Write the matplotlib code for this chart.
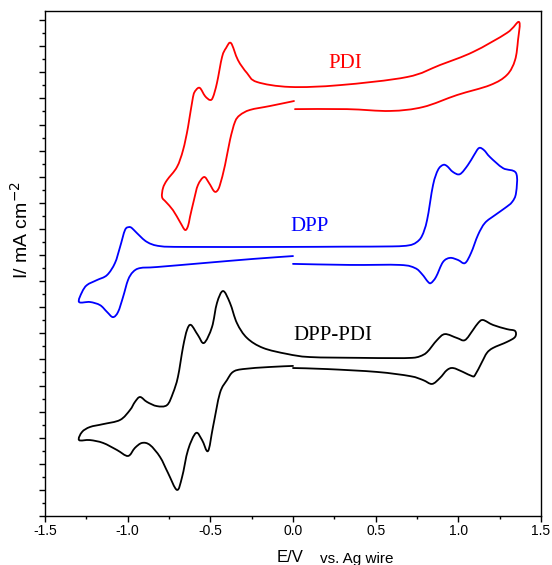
import matplotlib
matplotlib.use("Agg")
import matplotlib.pyplot as plt
import numpy as np
from matplotlib.path import Path
from matplotlib.patches import PathPatch
from matplotlib.ticker import MultipleLocator, FormatStrFormatter

# cyclic voltammograms, current in stacked (offset) units
pdi_E = [0.012, 0.327, 0.587, 0.786, 0.992, 1.192, 1.294, 1.343, 1.361, 1.367,
         1.294, 1.089, 0.889, 0.690, 0.284, -0.018, -0.218, -0.278, -0.333, -0.375,
         -0.405, -0.429, -0.460, -0.484, -0.502, -0.532, -0.563, -0.587, -0.605, -0.635,
         -0.665, -0.702, -0.762, -0.786, -0.792, -0.768, -0.726, -0.683, -0.653, -0.635,
         -0.623, -0.599, -0.575, -0.538, -0.508, -0.478, -0.460, -0.442, -0.411, -0.381,
         -0.351, -0.321, -0.260, -0.139, 0.006]
pdi_I = [15.59, 15.59, 15.52, 15.67, 16.13, 16.51, 16.90, 17.47, 18.24, 18.93,
         18.51, 17.78, 17.28, 16.82, 16.51, 16.44, 16.63, 16.97, 17.47, 18.12,
         17.93, 17.59, 16.59, 16.05, 15.94, 16.09, 16.40, 16.32, 16.05, 14.90,
         14.02, 13.37, 12.87, 12.57, 12.22, 12.03, 11.72, 11.26, 10.96, 11.11,
         11.46, 12.11, 12.68, 12.99, 12.76, 12.45, 12.45, 12.68, 13.45, 14.41,
         15.10, 15.36, 15.56, 15.71, 15.90]

dpp_E = [0.0, 0.345, 0.647, 0.738, 0.780, 0.817, 0.835, 0.865, 0.907, 0.950,
         0.998, 1.040, 1.077, 1.119, 1.161, 1.222, 1.282, 1.325, 1.349, 1.349,
         1.270, 1.192, 1.155, 1.125, 1.095, 1.058, 1.010, 0.968, 0.931, 0.907,
         0.877, 0.847, 0.811, 0.780, 0.745, 0.700, 0.600, 0.300, -0.060, -0.641, -0.804, -0.883,
         -0.944, -0.974, -0.992, -1.016, -1.046, -1.077, -1.125, -1.186, -1.246, -1.276,
         -1.294, -1.228, -1.167, -1.125, -1.089, -1.058, -1.028, -0.998, -0.968, -0.925,
         -0.823, -0.544, -0.242, 0.0]
dpp_I = [9.66, 9.62, 9.62, 9.50, 9.27, 8.97, 8.93, 9.16, 9.73, 9.89,
         9.81, 9.69, 10.08, 10.77, 11.23, 11.53, 11.80, 12.03, 12.38, 13.14,
         13.33, 13.75, 14.02, 14.10, 13.83, 13.45, 13.10, 13.18, 13.41, 13.45,
         13.26, 12.68, 11.34, 10.73, 10.48, 10.37, 10.33, 10.32, 10.31, 10.31, 10.34, 10.50,
         10.84, 11.03, 11.07, 10.96, 10.31, 9.69, 9.23, 9.04, 8.85, 8.58,
         8.20, 8.20, 8.08, 7.82, 7.62, 7.82, 8.39, 9.04, 9.35, 9.50,
         9.54, 9.69, 9.85, 9.96]

dyad_E = [0.0, 0.206, 0.508, 0.708, 0.786, 0.841, 0.889, 0.931, 0.968, 1.028,
          1.083, 1.101, 1.143, 1.173, 1.210, 1.294, 1.343, 1.343, 1.294, 1.210,
          1.149, 1.119, 1.089, 1.040, 0.992, 0.919, 0.871, 0.811, 0.768, 0.720,
          0.600, 0.400, 0.103,
          -0.036, -0.181, -0.278, -0.339, -0.381, -0.423, -0.460, -0.490, -0.538, -0.575,
          -0.617, -0.641, -0.665, -0.696, -0.726, -0.762, -0.823, -0.883, -0.925, -0.956,
          -0.986, -1.046, -1.149, -1.228, -1.276, -1.294, -1.228, -1.149, -1.065, -0.998,
          -0.956, -0.913, -0.865, -0.804, -0.756, -0.702, -0.671, -0.635, -0.587, -0.550,
          -0.514, -0.484, -0.442, -0.399, -0.363, -0.302, -0.139, 0.0]
dyad_I = [5.67, 5.63, 5.52, 5.36, 5.21, 5.06, 5.29, 5.59, 5.67, 5.52,
          5.36, 5.40, 5.90, 6.25, 6.44, 6.67, 6.86, 7.09, 7.16, 7.32,
          7.51, 7.39, 7.13, 6.74, 6.82, 6.97, 6.74, 6.28, 6.12, 6.06,
          6.05, 6.06, 6.09,
          6.21, 6.44, 6.82, 7.39, 8.16, 8.62, 8.16, 7.24, 6.63, 6.93,
          7.32, 7.13, 6.48, 5.33, 4.71, 4.25, 4.21, 4.37, 4.56, 4.37,
          4.06, 3.68, 3.52, 3.41, 3.22, 2.91, 2.91, 2.80, 2.53, 2.30,
          2.61, 2.80, 2.72, 2.26, 1.65, 1.00, 1.49, 2.53, 3.18, 2.91,
          2.49, 3.41, 4.71, 5.21, 5.52, 5.63, 5.71, 5.75]

names = ["PDI", "DPP", "DPP-PDI"]
colors = ["#ff0000", "#0000ff", "#000000"]


def smooth_path(x, y):
    # Catmull-Rom through the read points, drawn as cubic Bezier pieces
    p = np.column_stack([x, y])
    n = len(p)
    verts = [p[0]]
    codes = [Path.MOVETO]
    for i in range(n - 1):
        p0 = p[max(i - 1, 0)]
        p1 = p[i]
        p2 = p[i + 1]
        p3 = p[min(i + 2, n - 1)]
        verts += [p1 + (p2 - p0) / 6, p2 - (p3 - p1) / 6, p2]
        codes += [Path.CURVE4] * 3
    return Path(verts, codes)


fig = plt.figure(figsize=(5.52, 5.65), dpi=100)
ax = fig.add_axes([45 / 552, 49 / 565, 496 / 552, 505 / 565])

for E, I, c in zip([pdi_E, dpp_E, dyad_E], [pdi_I, dpp_I, dyad_I], colors):
    ax.add_patch(PathPatch(smooth_path(E, I), fill=False, edgecolor=c, lw=1.3,
                           joinstyle="round", capstyle="round"))

# curve labels
serif = "Liberation Serif"
ax.text(0.315, 17.32, names[0], color=colors[0], fontsize=15, family=serif, ha="center", va="center")
ax.text(0.103, 11.11, names[1], color=colors[1], fontsize=15, family=serif, ha="center", va="center")
ax.text(0.242, 6.90, names[2], color=colors[2], fontsize=15, family=serif, ha="center", va="center")

ax.set_xlim(-1.5, 1.5)
ax.set_ylim(0, 19.35)
ax.xaxis.set_major_locator(MultipleLocator(0.5))
ax.xaxis.set_minor_locator(MultipleLocator(0.25))
ax.xaxis.set_major_formatter(FormatStrFormatter("%.1f"))
ax.yaxis.set_major_locator(MultipleLocator(1))
ax.yaxis.set_minor_locator(MultipleLocator(0.5))
ax.tick_params(axis="y", labelleft=False)
ax.tick_params(which="both", direction="out", width=1, top=False, right=False)
ax.tick_params(which="major", length=4.5)
ax.tick_params(which="minor", length=2.5)
ax.tick_params(axis="x", pad=1.5, labelsize=10)
for lab in ax.get_xticklabels():
    lab.set_family("Liberation Sans")
for s in ax.spines.values():
    s.set_linewidth(1.0)

fig.text(290 / 552, 1 - 558 / 565, "E/V", fontsize=12, family="Liberation Sans", ha="center", va="center")
fig.text(357 / 552, 1 - 559 / 565, "vs. Ag wire", fontsize=11, family="Liberation Sans", ha="center", va="center")
fig.text(21 / 552, 1 - 230 / 565, "I/ mA cm$^{-2}$", fontsize=14, family="Liberation Sans",
         rotation=90, ha="center", va="center")

fig.savefig("out.png", dpi=100)
